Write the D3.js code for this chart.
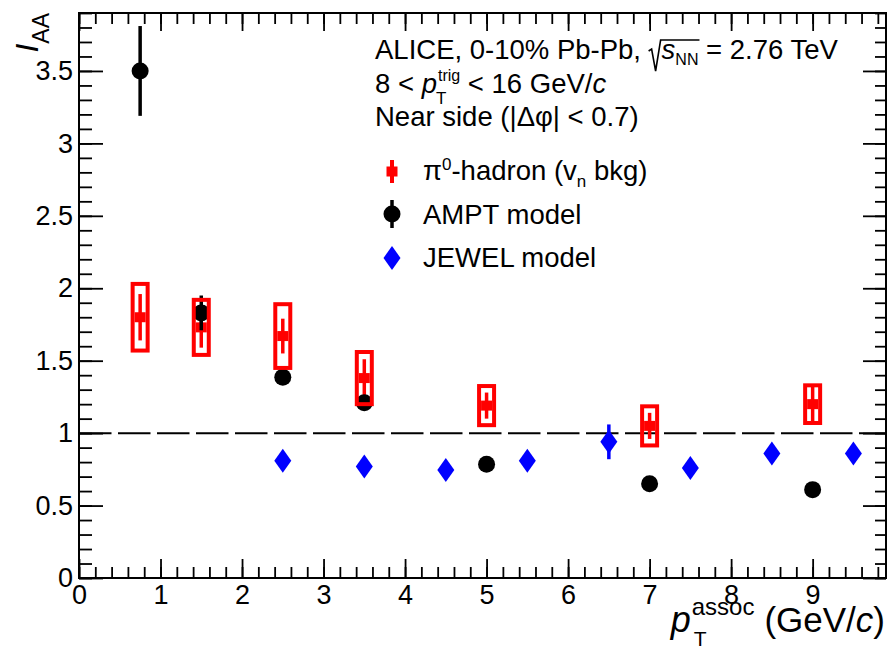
<!DOCTYPE html>
<html>
<head>
<meta charset="utf-8">
<script src="https://cdn.jsdelivr.net/npm/d3@7"></script>
<style>
  html, body { margin: 0; padding: 0; background: #fff; }
  svg { display: block; font-family: "Liberation Sans", Arial, sans-serif; }
  text { white-space: pre; }
</style>
</head>
<body>
<svg id="chart" width="888" height="650"></svg>
<script>
// ---- data: I_AA vs associated pT ----
const piX    = [0.75, 1.5, 2.5, 3.5, 5, 7, 9];
const piY    = [1.80, 1.73, 1.67, 1.38, 1.19, 1.05, 1.20];
const piStat = [0.16, 0.14, 0.12, 0.13, 0.09, 0.09, 0.12];
const piSys  = [0.23, 0.19, 0.22, 0.18, 0.135, 0.135, 0.13];

const amptX   = [0.75, 1.5, 2.5, 3.5, 5, 7, 9];
const amptY   = [3.50, 1.83, 1.385, 1.21, 0.785, 0.65, 0.61];
const amptErr = [0.31, 0.12, 0.03, 0.03, 0.03, 0.03, 0.03];

const jewelX   = [2.5, 3.5, 4.5, 5.5, 6.5, 7.5, 8.5, 9.5];
const jewelY   = [0.81, 0.77, 0.745, 0.81, 0.94, 0.76, 0.86, 0.86];
const jewelErr = [0.02, 0.02, 0.02, 0.02, 0.12, 0.02, 0.02, 0.02];

const xMajor = [0, 1, 2, 3, 4, 5, 6, 7, 8, 9];
const yMajor = [0, 0.5, 1, 1.5, 2, 2.5, 3, 3.5];
const xTickLabels = ["0", "1", "2", "3", "4", "5", "6", "7", "8", "9"];
const yTickLabels = ["0", "0.5", "1", "1.5", "2", "2.5", "3", "3.5"];
const xMinor = d3.range(0, 9.81, 0.2).map(v => +v.toFixed(1));
const yMinor = d3.range(0, 3.91, 0.1).map(v => +v.toFixed(1));

const legendLabels = ["AMPT model", "JEWEL model"];

// ---- layout ----
const svg = d3.select("#chart");
const L = 79, R = 886, T = 13, B = 578;
const x = d3.scaleLinear().domain([0, 9.9]).range([L, R]);
const y = d3.scaleLinear().domain([0, 3.9]).range([B, T]);

const RED = "#ff0000", BLUE = "#0000ff", BLACK = "#000000";

svg.append("rect").attr("width", 888).attr("height", 650).attr("fill", "#fff");

// ---- axes (ticks on all four sides, pointing inwards) ----
function styleAxis(g) {
  g.select(".domain").remove();
  g.selectAll(".tick line").attr("stroke", BLACK).attr("stroke-width", 1.8);
  g.selectAll(".tick text").attr("fill", BLACK).attr("font-family", "Liberation Sans, Arial, sans-serif");
}
// bottom
svg.append("g").attr("transform", `translate(0,${B})`)
  .call(d3.axisBottom(x).tickValues(xMinor).tickSize(-11).tickFormat(""))
  .call(styleAxis);
svg.append("g").attr("transform", `translate(0,${B})`)
  .call(d3.axisBottom(x).tickValues(xMajor).tickSize(-19).tickPadding(7)
        .tickFormat((d, i) => xTickLabels[i]))
  .call(styleAxis)
  .call(g => g.selectAll(".tick text").attr("font-size", 27));
// top
svg.append("g").attr("transform", `translate(0,${T})`)
  .call(d3.axisTop(x).tickValues(xMinor).tickSize(-11).tickFormat(""))
  .call(styleAxis);
svg.append("g").attr("transform", `translate(0,${T})`)
  .call(d3.axisTop(x).tickValues(xMajor).tickSize(-18).tickFormat(""))
  .call(styleAxis);
// left
svg.append("g").attr("transform", `translate(${L},0)`)
  .call(d3.axisLeft(y).tickValues(yMinor).tickSize(-13).tickFormat(""))
  .call(styleAxis);
svg.append("g").attr("transform", `translate(${L},0)`)
  .call(d3.axisLeft(y).tickValues(yMajor).tickSize(-24).tickPadding(6)
        .tickFormat((d, i) => yTickLabels[i]))
  .call(styleAxis)
  .call(g => g.selectAll(".tick text").attr("font-size", 27));
// right
svg.append("g").attr("transform", `translate(${R},0)`)
  .call(d3.axisRight(y).tickValues(yMinor).tickSize(-11).tickFormat(""))
  .call(styleAxis);
svg.append("g").attr("transform", `translate(${R},0)`)
  .call(d3.axisRight(y).tickValues(yMajor).tickSize(-23).tickFormat(""))
  .call(styleAxis);

// frame
svg.append("rect").attr("x", L).attr("y", T).attr("width", R - L).attr("height", B - T)
  .attr("fill", "none").attr("stroke", BLACK).attr("stroke-width", 2);

// unity reference line
svg.append("line")
  .attr("x1", x(0)).attr("x2", x(9.9)).attr("y1", y(1)).attr("y2", y(1))
  .attr("stroke", BLACK).attr("stroke-width", 2).attr("stroke-dasharray", "32.5,6.5");

// ---- markers ----
const diamond = (cx, cy, hw, hh) => `M${cx},${cy - hh}L${cx + hw},${cy}L${cx},${cy + hh}L${cx - hw},${cy}Z`;

const piData = piX.map((v, i) => ({ x: v, y: piY[i], stat: piStat[i], sys: piSys[i] }));
const amptData = amptX.map((v, i) => ({ x: v, y: amptY[i], err: amptErr[i] }));
const jewelData = jewelX.map((v, i) => ({ x: v, y: jewelY[i], err: jewelErr[i] }));

// pi0-hadron statistical bars and points
const gPiStat = svg.append("g");
gPiStat.selectAll("line").data(piData).join("line")
  .attr("x1", d => x(d.x)).attr("x2", d => x(d.x))
  .attr("y1", d => y(d.y + d.stat)).attr("y2", d => y(d.y - d.stat))
  .attr("stroke", RED).attr("stroke-width", 3.5);
gPiStat.selectAll("rect").data(piData).join("rect")
  .attr("x", d => x(d.x) - 5.5).attr("y", d => y(d.y) - 5)
  .attr("width", 11).attr("height", 10).attr("fill", RED);

// AMPT
const gAmpt = svg.append("g");
gAmpt.selectAll("line").data(amptData).join("line")
  .attr("x1", d => x(d.x)).attr("x2", d => x(d.x))
  .attr("y1", d => y(d.y + d.err)).attr("y2", d => y(d.y - d.err))
  .attr("stroke", BLACK).attr("stroke-width", 3.5);
gAmpt.selectAll("circle").data(amptData).join("circle")
  .attr("cx", d => x(d.x)).attr("cy", d => y(d.y)).attr("r", 8.5).attr("fill", BLACK);

// pi0-hadron systematic boxes
svg.append("g").selectAll("rect").data(piData).join("rect")
  .attr("x", d => x(d.x) - 7.5).attr("y", d => y(d.y + d.sys))
  .attr("width", 15).attr("height", d => y(d.y - d.sys) - y(d.y + d.sys))
  .attr("fill", "none").attr("stroke", RED).attr("stroke-width", 4);

// JEWEL
const gJewel = svg.append("g");
gJewel.selectAll("line").data(jewelData).join("line")
  .attr("x1", d => x(d.x)).attr("x2", d => x(d.x))
  .attr("y1", d => y(d.y + d.err)).attr("y2", d => y(d.y - d.err))
  .attr("stroke", BLUE).attr("stroke-width", 3.5);
gJewel.selectAll("path").data(jewelData).join("path")
  .attr("d", d => diamond(x(d.x), y(d.y), 8.5, 12)).attr("fill", BLUE);

// ---- rich text helper: runs laid out left to right, with optional stacked sup/sub ----
function rich(parent, px, py, runs, anchor) {
  const g = parent.append("g");
  let cx = 0;
  runs.forEach(r => {
    if (r.advance) { r.x0 = cx; cx += r.advance; r.x1 = cx; return; }
    const parts = r.stack || [r];
    let w = 0;
    parts.forEach(p => {
      const t = g.append("text")
        .attr("x", cx + (p.dx || 0)).attr("y", p.dy || 0)
        .attr("font-size", p.fs).attr("fill", BLACK)
        .attr("font-style", p.it ? "italic" : null)
        .text(p.t);
      p.x0 = cx + (p.dx || 0);
      w = Math.max(w, t.node().getComputedTextLength() + (p.dx || 0));
      p.x1 = cx + w;
    });
    r.x0 = cx; r.x1 = cx + w;
    cx += w + (r.gap || 0);
  });
  const ox = anchor === "end" ? px - cx : px;
  g.attr("transform", `translate(${ox},${py})`);
  return { g, width: cx, ox };
}

// ---- header text ----
const FS = 27.5;
const rootRun = { advance: 13 };
const sRun = { t: "s", fs: FS, it: true };
const nnRun = { t: "NN", fs: 16, dy: 6 };
const line1 = rich(svg, 375, 59, [
  { t: "ALICE, 0-10% Pb-Pb, ", fs: FS },
  rootRun, sRun, nnRun,
  { t: " = 2.76 TeV", fs: FS }
]);
// radical sign spanning s_NN
{
  const start = rootRun.x0, end = nnRun.x1 + 1;
  line1.g.append("path")
    .attr("d", `M${start},-8 L${start + 3},-10 L${start + 7},12 L${start + 12},-19 L${end},-19`)
    .attr("fill", "none").attr("stroke", BLACK).attr("stroke-width", 1.6);
}
rich(svg, 375, 93, [
  { t: "8 < ", fs: FS },
  { t: "p", fs: FS, it: true },
  { stack: [{ t: "trig", fs: 16, dy: -12, dx: 1 }, { t: "T", fs: 17, dy: 11, dx: -1 }] },
  { t: " < 16 GeV/", fs: FS },
  { t: "c", fs: FS, it: true }
]);
rich(svg, 375, 126, [{ t: "Near side (|Δφ| < 0.7)", fs: FS }]);

// ---- legend ----
const lgX = 392;
const lg = svg.append("g");
// pi0-hadron entry
lg.append("line").attr("x1", lgX).attr("x2", lgX).attr("y1", 160).attr("y2", 183)
  .attr("stroke", RED).attr("stroke-width", 4);
lg.append("rect").attr("x", lgX - 5.5).attr("y", 166.5).attr("width", 11).attr("height", 10).attr("fill", RED);
rich(svg, 423, 180, [
  { t: "π", fs: FS },
  { t: "0", fs: 17, dy: -10 },
  { t: "-hadron (v", fs: FS },
  { t: "n", fs: 17, dy: 7 },
  { t: " bkg)", fs: FS }
]);
// AMPT entry
lg.append("line").attr("x1", lgX).attr("x2", lgX).attr("y1", 200).attr("y2", 228)
  .attr("stroke", BLACK).attr("stroke-width", 3.5);
lg.append("circle").attr("cx", lgX).attr("cy", 214).attr("r", 8.5).attr("fill", BLACK);
rich(svg, 423, 224, [{ t: legendLabels[0], fs: FS }]);
// JEWEL entry
lg.append("path").attr("d", diamond(lgX, 258, 8.5, 12)).attr("fill", BLUE);
rich(svg, 423, 267, [{ t: legendLabels[1], fs: FS }]);

// ---- axis titles ----
rich(svg, 885, 632, [
  { t: "p", fs: 36, it: true },
  { stack: [{ t: "assoc", fs: 24, dy: -17, dx: 1 }, { t: "T", fs: 21, dy: 14, dx: 3 }], gap: 10 },
  { t: "(GeV/", fs: 35 },
  { t: "c", fs: 35, it: true },
  { t: ")", fs: 35 }
], "end");

const yTitle = svg.append("g").attr("transform", "translate(38,13) rotate(-90)");
rich(yTitle, 0, 0, [
  { t: "I", fs: 32, it: true },
  { t: "AA", fs: 23, dy: 11 }
], "end");
</script>
</body>
</html>
